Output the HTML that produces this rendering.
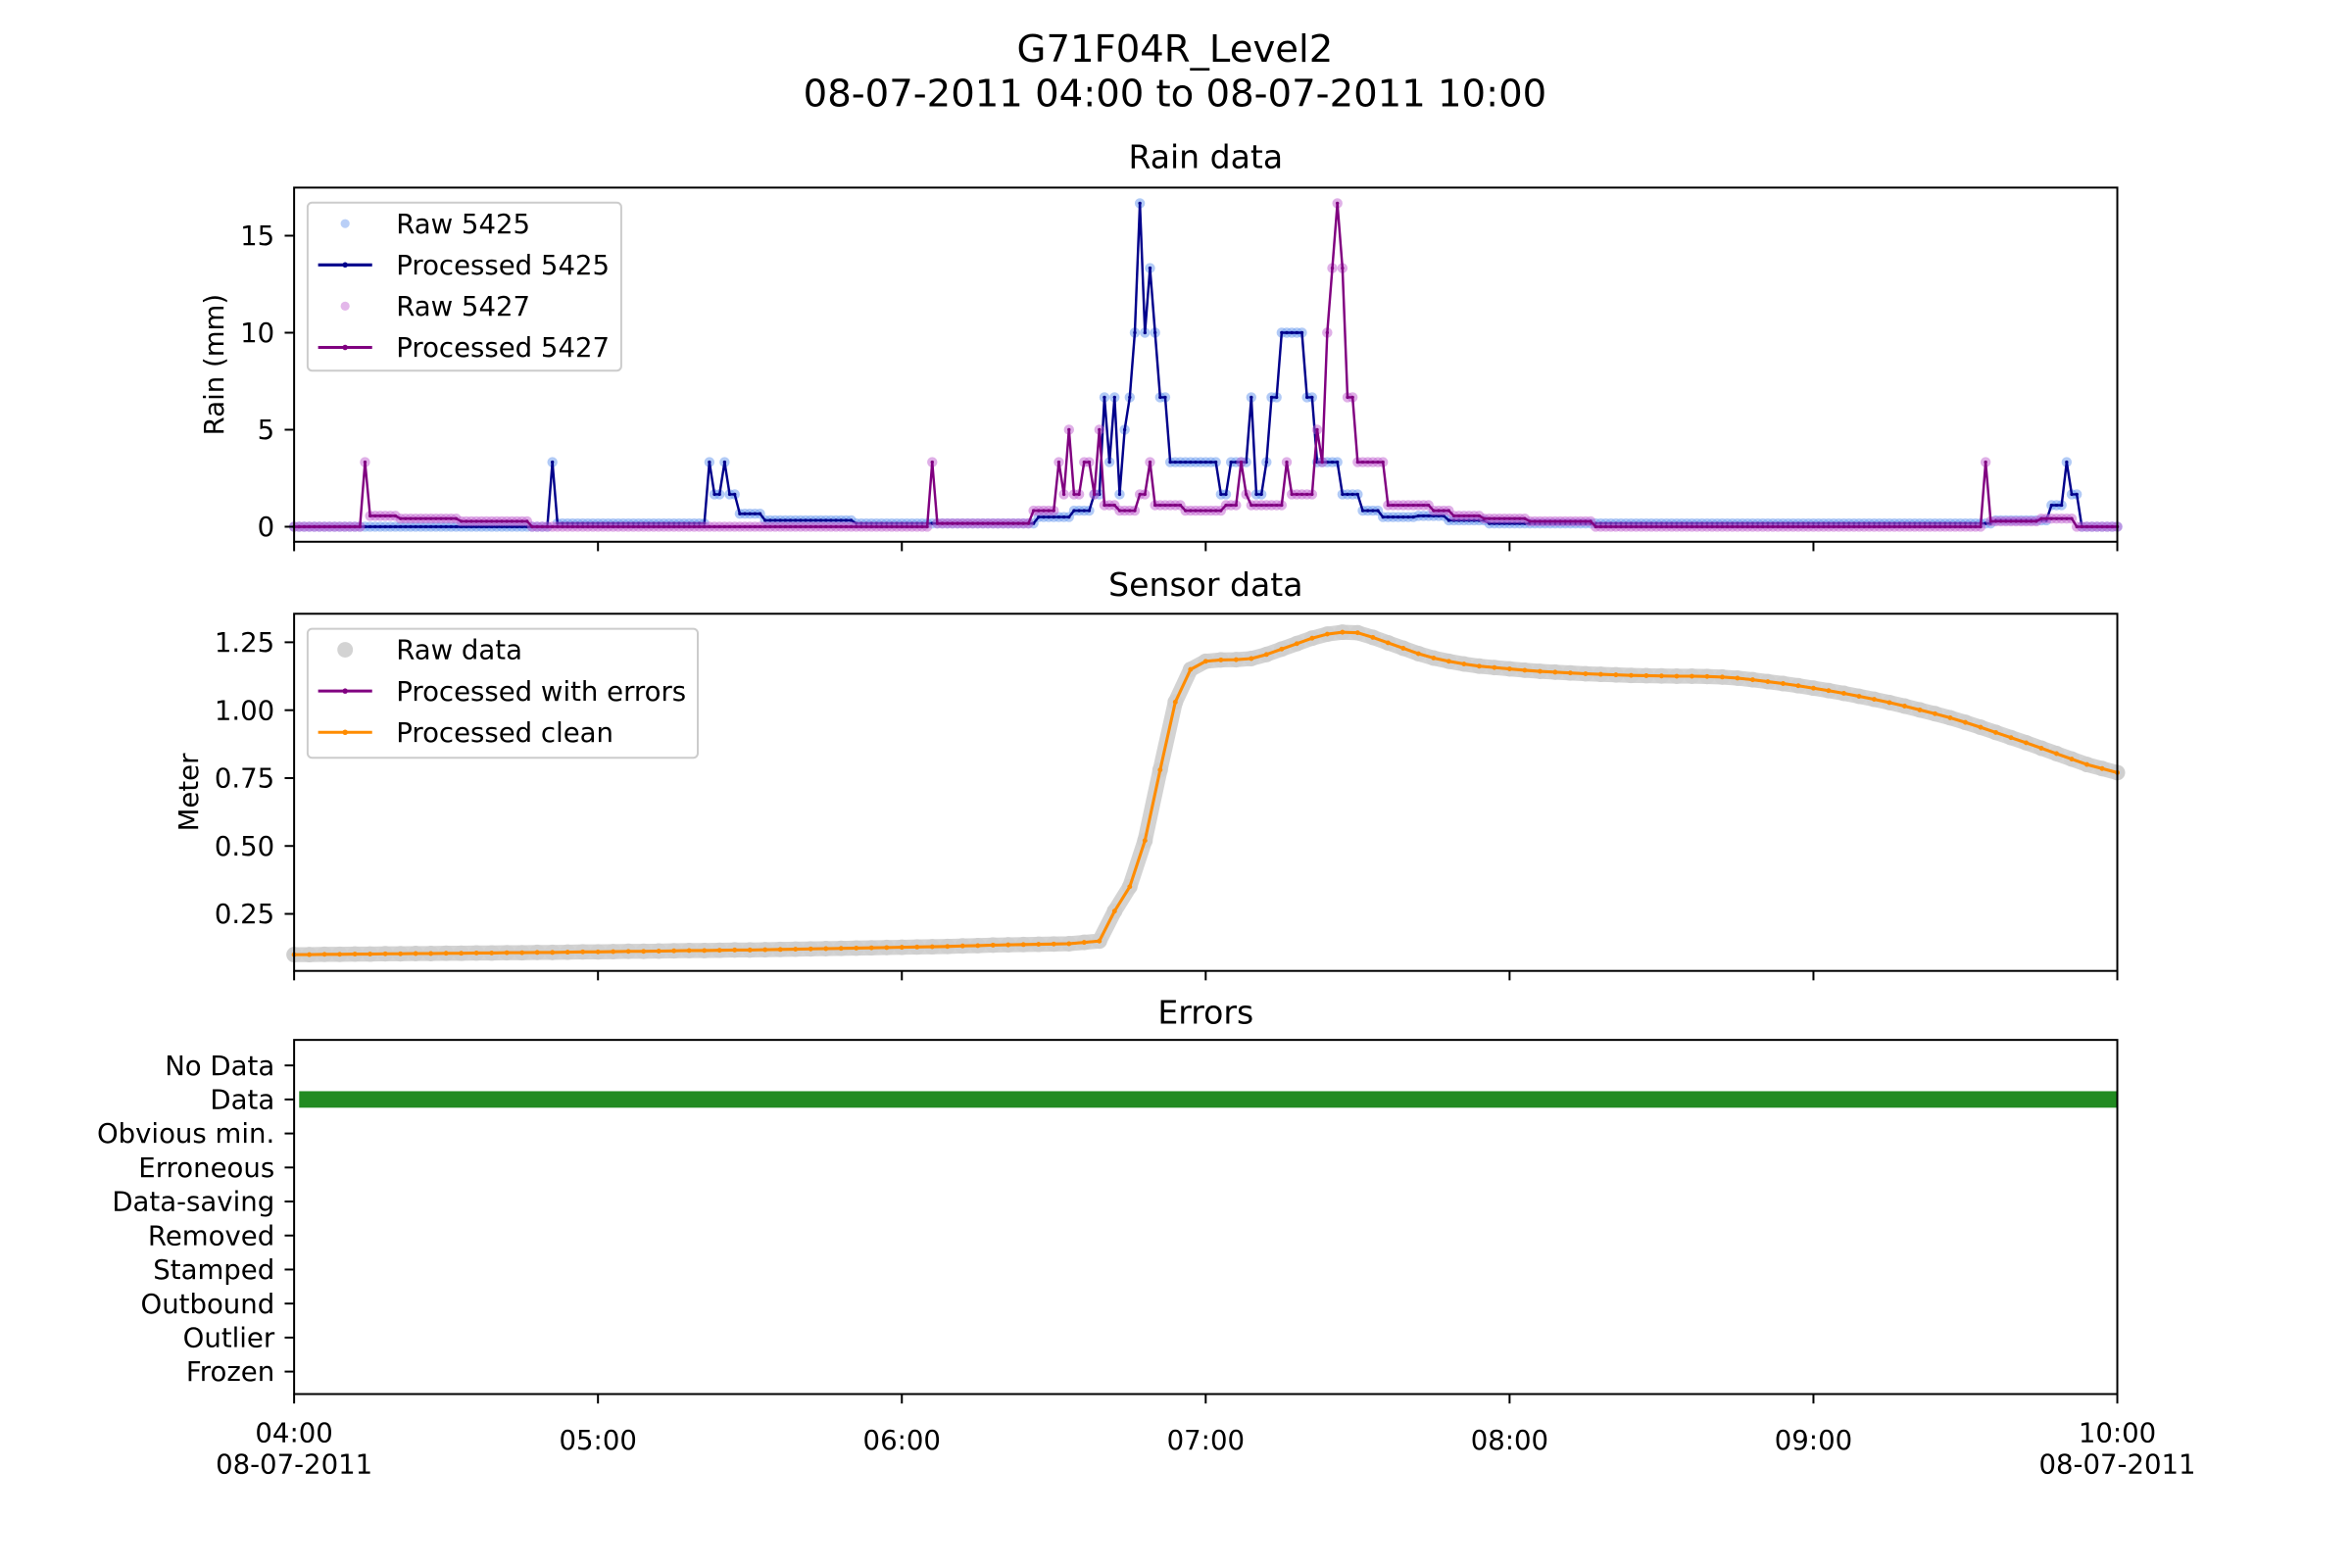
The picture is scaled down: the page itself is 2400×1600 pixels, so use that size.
<!DOCTYPE html>
<html><head><meta charset="utf-8"><style>
html,body{margin:0;padding:0;background:#fff;overflow:hidden;width:2400px;height:1600px;}
svg{display:block;}
text{font-family:"DejaVu Sans","Liberation Sans",sans-serif;fill:#000;}
</style></head><body>
<svg id="fig" width="2400" height="1600" viewBox="0 0 1567.4 1044.9" xmlns="http://www.w3.org/2000/svg">
<rect width="1567.4" height="1044.9" fill="#fff"/>
<text x="783" y="41" font-size="25.2" text-anchor="middle">G71F04R_Level2</text>
<text x="783" y="71" font-size="25.2" text-anchor="middle">08-07-2011 04:00 to 08-07-2011 10:00</text>
<g id="rain"></g>
<g id="sensor"></g>
<g id="errors"></g>
</svg>
<script>
// ---- data ----
const rain5425Minutes=[0,51,52,82,83,85,86,88,93,111,147,154,158,160,161,162,163,164,165,166,167,168,169,170,171,173,183,185,189,190,192,193,195,200,202,207,211,215,222,228,236,336,347,350,351,353];
const rain5425Values=[0,3.33,0.17,3.33,1.67,3.33,1.67,0.67,0.33,0.17,0.5,0.83,1.67,6.67,3.33,6.67,1.67,5,6.67,10,16.67,10,13.33,10,6.67,3.33,1.67,3.33,6.67,1.67,3.33,6.67,10,6.67,3.33,1.67,0.83,0.5,0.56,0.33,0.17,0.33,1.11,3.33,1.67,0];
const rain5427Minutes=[0,14,15,21,33,47,126,127,146,151,152,153,154,156,158,159,160,163,167,169,170,176,184,187,188,189,196,197,202,203,204,205,206,207,208,210,216,225,229,235,244,257,334,335,345,352];
const rain5427Values=[0,3.33,0.56,0.42,0.28,0,3.33,0.17,0.83,3.33,1.67,5,1.67,3.33,1.67,5,1.11,0.83,1.67,3.33,1.11,0.83,1.11,3.33,1.67,1.11,3.33,1.67,5,3.33,10,13.33,16.67,13.33,6.67,3.33,1.11,0.83,0.56,0.42,0.28,0,3.33,0.28,0.42,0];
const sensorStep=3;
const sensorValues=[0.100,0.100,0.101,0.101,0.102,0.102,0.103,0.103,0.104,0.104,
0.105,0.105,0.106,0.106,0.107,0.107,0.108,0.108,0.109,0.110,
0.110,0.111,0.112,0.112,0.113,0.114,0.115,0.115,0.116,0.117,
0.117,0.118,0.119,0.120,0.121,0.122,0.123,0.124,0.125,0.126,
0.127,0.128,0.129,0.130,0.132,0.133,0.135,0.136,0.137,0.138,
0.139,0.140,0.145,
0.15,0.26,0.35,0.52,0.78,1.03,1.15,1.18,1.185,1.186,1.19,1.205,1.225,1.245,1.265,1.28,1.287,1.285,1.268,1.248,1.228,1.208,1.192,1.18,1.17,1.162,1.157,1.152,1.147,1.143,1.14,1.137,1.134,1.132,1.13,1.128,1.127,1.126,1.125,1.125,1.124,1.122,1.118,1.112,1.105,1.098,1.09,1.081,1.072,1.062,1.051,1.04,1.028,1.015,1.001,0.987,0.972,0.955,0.937,0.918,0.899,0.88,0.86,0.84,0.82,0.80,0.785,0.77];
const rainTicks=[0,5,10,15];
const sensorTicks=[0.25,0.50,0.75,1.00,1.25];
const sensorTickLabels=["0.25","0.50","0.75","1.00","1.25"];
const errorCategories=["No Data","Data","Obvious min.","Erroneous","Data-saving","Removed","Stamped","Outbound","Outlier","Frozen"];
const errorSegStart=[1];const errorSegEnd=[360];const errorSegCat=[1];
const xTickMinutes=[0,60,120,180,240,300,360];
const xTickLabels=["04:00","05:00","06:00","07:00","08:00","09:00","10:00"];

// ---- helpers ----
const NS="http://www.w3.org/2000/svg";
function mk(tag,attrs,parent){const e=document.createElementNS(NS,tag);for(const k in attrs)e.setAttribute(k,attrs[k]);parent.appendChild(e);return e;}
const X0=196,X1=1411;
const xs=m=>X0+(X1-X0)*m/360;
const yRain=v=>351-v*12.93;
const ySens=v=>428+(1.25-v)*181;
const yErr=i=>710+i*22.67;
function expand(mins,vals){const out=[];let j=0;for(let m=0;m<=360;m++){while(j+1<mins.length&&mins[j+1]<=m)j++;out.push(vals[j]);}return out;}

function axesFrame(g,top,bot,name){
  const r=mk('rect',{x:X0,y:top,width:X1-X0,height:bot-top,fill:'none',stroke:'#000','stroke-width':1.3},g);
  
  
  xTickMinutes.forEach(m=>{const t=mk('line',{x1:xs(m),x2:xs(m),y1:bot,y2:bot+6.3,stroke:'#000','stroke-width':1.3},g);
    
    });
}
function yTick(g,y,label,name){
  const t=mk('line',{x1:X0-6.3,x2:X0,y1:y,y2:y,stroke:'#000','stroke-width':1.3},g);
  
  
  const tx=mk('text',{x:X0-13,y:y+6.3,'font-size':18,'text-anchor':'end'},g);tx.textContent=label;
  
  
}
function title(g,y,txt,name){const t=mk('text',{x:803.5,y:y,'font-size':21.6,'text-anchor':'middle'},g);t.textContent=txt;
  
  }
function series(g,pts,color,lw,dotR,name){
  const p=mk('polyline',{points:pts.map(q=>q[0].toFixed(2)+','+q[1].toFixed(2)).join(' '),fill:'none',stroke:color,'stroke-width':lw,'stroke-linejoin':'round'},g);
  
  
  if(dotR>0)pts.forEach(q=>{const c=mk('circle',{cx:q[0],cy:q[1],r:dotR,fill:color},g);
    
    });
}
function rawDots(g,pts,color,r,op,name){pts.forEach(q=>{const c=mk('circle',{cx:q[0],cy:q[1],r:r,fill:color,'fill-opacity':op},g);
    
    });}
function legend(g,x,y,w,h,items,name){
  const b=mk('rect',{x:x,y:y,width:w,height:h,rx:3,fill:'#fff','fill-opacity':0.8,stroke:'#ccc','stroke-width':1.3},g);
  
  
  items.forEach((it,i)=>{const cy=y+14+i*27.5;
    if(it.type==='dot'){const c=mk('circle',{cx:x+25,cy:cy,r:it.r,fill:it.color,'fill-opacity':it.op},g);
      
      }
    else{const l=mk('line',{x1:x+7,x2:x+43,y1:cy,y2:cy,stroke:it.color,'stroke-width':2},g);
      
      
      mk('circle',{cx:x+25,cy:cy,r:1.8,fill:it.color},g);}
    const t=mk('text',{x:x+59,y:cy+6.3,'font-size':18},g);t.textContent=it.label;
    
    
  });
}

// ---- rain ----
const gR=document.getElementById('rain');
title(gR,112,'Rain data','rain-title');
const r5=expand(rain5425Minutes,rain5425Values).map((v,m)=>[xs(m),yRain(v)]);
const r7=expand(rain5427Minutes,rain5427Values).map((v,m)=>[xs(m),yRain(v)]);
rawDots(gR,r5,'#6495ed',3.4,0.5,'raw-5425');
series(gR,r5,'#00008b',1.6,1.1,'processed-5425');
rawDots(gR,r7,'#c060d0',3.4,0.5,'raw-5427');
series(gR,r7,'#800080',1.6,1.1,'processed-5427');
axesFrame(gR,125,361,'rain');
rainTicks.forEach(v=>yTick(gR,yRain(v),String(v),'rain'));
(function(){const t=mk('text',{x:0,y:0,'font-size':18,'text-anchor':'middle',transform:'translate(149,243) rotate(-90)'},gR);t.textContent='Rain (mm)';

})();
legend(gR,205,135,209,112,[{type:'dot',color:'#6495ed',r:3,op:0.45,label:'Raw 5425'},{type:'line',color:'#00008b',label:'Processed 5425'},{type:'dot',color:'#c060d0',r:3,op:0.45,label:'Raw 5427'},{type:'line',color:'#800080',label:'Processed 5427'}],'rain-legend');

// ---- sensor ----
const gS=document.getElementById('sensor');
title(gS,397,'Sensor data','sensor-title');
const sp=sensorValues.map((v,i)=>[xs(i*sensorStep),ySens(v)]);
(function(){const b=mk('polyline',{points:sp.map(q=>q[0]+','+q[1]).join(' '),fill:'none',stroke:'#d3d3d3','stroke-width':10,'stroke-linejoin':'round','stroke-linecap':'round'},gS);

})();
rawDots(gS,sp,'#cfcfcf',5.2,1,'raw-data');
series(gS,sp,'#800080',1.6,0,'processed-with-errors');
series(gS,sp,'#ff8c00',2,1.6,'processed-clean');
axesFrame(gS,409,647,'sensor');
sensorTicks.forEach((v,i)=>yTick(gS,ySens(v),sensorTickLabels[i],'sensor'));
(function(){const t=mk('text',{x:0,y:0,'font-size':18,'text-anchor':'middle',transform:'translate(132,528) rotate(-90)'},gS);t.textContent='Meter';

})();
legend(gS,205,419,260,86,[{type:'dot',color:'#d3d3d3',r:5.2,op:1,label:'Raw data'},{type:'line',color:'#800080',label:'Processed with errors'},{type:'line',color:'#ff8c00',label:'Processed clean'}],'sensor-legend');

// ---- errors ----
const gE=document.getElementById('errors');
title(gE,682,'Errors','errors-title');
errorSegStart.forEach((s,i)=>{const r=mk('rect',{x:xs(errorSegStart[i]),y:yErr(errorSegCat[i])-5.5,width:xs(errorSegEnd[i])-xs(errorSegStart[i]),height:11,fill:'#228b22'},gE);
  
  });
axesFrame(gE,693,929,'errors');
errorCategories.forEach((c,i)=>yTick(gE,yErr(i),c,'errors'));
xTickMinutes.forEach((m,i)=>{
  const two=(i===0||i===xTickMinutes.length-1);
  const t=mk('text',{x:xs(m),y:two?961:966,'font-size':18,'text-anchor':'middle'},gE);t.textContent=xTickLabels[i];
  
  
  if(two){const d=mk('text',{x:xs(m),y:982,'font-size':18,'text-anchor':'middle'},gE);d.textContent='08-07-2011';
    
    }
});
</script>
</body></html>
